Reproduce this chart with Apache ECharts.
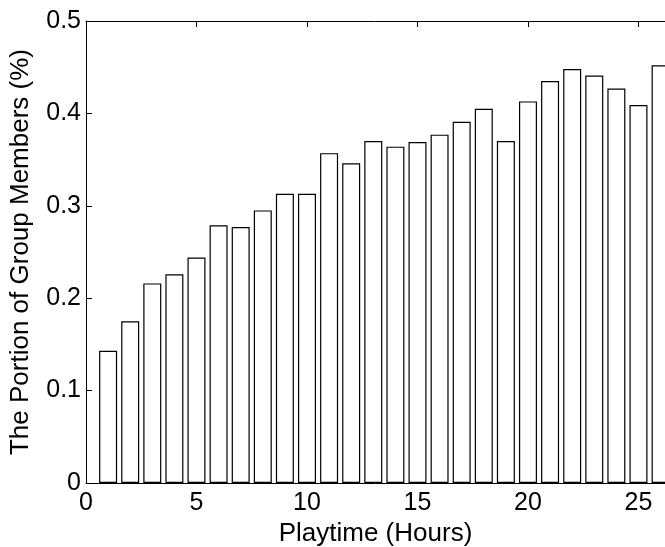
<!DOCTYPE html>
<html>
<head>
<meta charset="utf-8">
<script src="https://cdn.jsdelivr.net/npm/echarts@6/dist/echarts.min.js"></script>
<style>
  html, body { margin: 0; padding: 0; background: #fff; }
  #chart { width: 665px; height: 547px; }
</style>
</head>
<body>
<div id="chart"></div>
<script>
// playtime in hours (bar positions)
const hours = [1, 2, 3, 4, 5, 6, 7, 8, 9, 10, 11, 12, 13, 14, 15, 16, 17, 18, 19, 20, 21, 22, 23, 24, 25, 26]
// portion of group members (%)
const portion = [0.143, 0.175, 0.216, 0.226, 0.244, 0.279, 0.277, 0.295, 0.313, 0.313, 0.357, 0.346, 0.370,
  0.364, 0.369, 0.377, 0.391, 0.405, 0.370, 0.413, 0.435, 0.448, 0.441, 0.427, 0.409, 0.452]
const xTicks = [0, 5, 10, 15, 20, 25]

const font = 'Liberation Sans, Arial, sans-serif'
const chart = echarts.init(document.getElementById('chart'))

const option = {
  backgroundColor: '#fff',
  animation: false,
  grid: {
    left: 86,
    right: 0,
    top: 21,
    bottom: 64,
    containLabel: false,
    outerBoundsMode: 'none'
  },
  xAxis: [{
    type: 'value',
    min: 0,
    max: 26.2,
    interval: 5,
    name: 'Playtime (Hours)',
    nameLocation: 'middle',
    nameGap: 31,
    nameTextStyle: { fontFamily: font, fontSize: 26, color: '#000' },
    axisLine: { lineStyle: { color: '#000', width: 1 } },
    axisTick: { inside: true, length: 6, lineStyle: { color: '#000' } },
    axisLabel: {
      fontFamily: font,
      fontSize: 25,
      color: '#000',
      margin: 8,
      formatter: v => (xTicks.includes(v) ? String(v) : '')
    },
    splitLine: { show: false }
  }, {
    type: 'value',
    position: 'top',
    min: 0,
    max: 26.2,
    interval: 5,
    axisLine: { show: true, lineStyle: { color: '#000', width: 1 } },
    axisTick: { inside: true, length: 6, lineStyle: { color: '#000' } },
    axisLabel: { show: false },
    splitLine: { show: false }
  }],
  yAxis: {
    type: 'value',
    min: 0,
    max: 0.5,
    interval: 0.1,
    name: 'The Portion of Group Members (%)',
    nameLocation: 'middle',
    nameGap: 52,
    nameTextStyle: { fontFamily: font, fontSize: 26, color: '#000' },
    axisLine: { show: true, lineStyle: { color: '#000', width: 1 } },
    axisTick: { show: true, inside: true, length: 6, lineStyle: { color: '#000' } },
    axisLabel: {
      fontFamily: font,
      fontSize: 25,
      color: '#000',
      margin: 5,
      formatter: v => (v === 0 ? '0' : v.toFixed(1))
    },
    splitLine: { show: false }
  },
  series: [{
    type: 'bar',
    barWidth: 18,
    clip: true,
    itemStyle: {
      color: '#fff',
      borderColor: '#000',
      borderWidth: 1.2
    },
    data: hours.map((h, i) => [h, portion[i]])
  }]
}

chart.setOption(option)
</script>
</body>
</html>
